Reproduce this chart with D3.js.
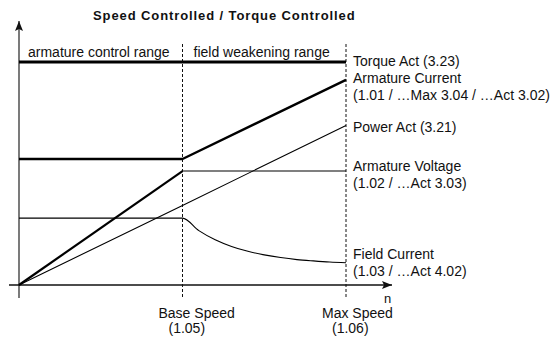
<!DOCTYPE html>
<html>
<head>
<meta charset="utf-8">
<script src="https://cdn.jsdelivr.net/npm/d3@7"></script>
<style>
  html, body { margin: 0; padding: 0; background: #fff; }
  svg { display: block; }
  text { font-family: "Liberation Sans", Arial, Helvetica, sans-serif; fill: #111; }
</style>
</head>
<body>
<div id="chart"></div>
<script>
// Speed in per-unit of base speed: 0 = standstill, 1 = base speed, 2 = max speed
const speedKnots = [0, 1, 2];

// Per-unit quantities (1.0 = rated torque)
const torqueAct       = [1.00, 1.00, 1.00];
const armatureCurrent = [0.565, 0.565, 0.92];
const armatureVoltage = [0.00, 0.511, 0.511];
const powerAct        = [0.00, 0.357, 0.715];

// Field current: constant up to base speed, then weakened
const fieldSpeed   = [0, 1.0, 1.1, 1.2, 1.3, 1.4, 1.5, 1.6, 1.7, 1.8, 1.9, 2.0];
const fieldCurrent = [0.30, 0.30, 0.244, 0.203, 0.173, 0.151, 0.135, 0.123, 0.114, 0.108, 0.103, 0.100];

// Speed markers on the n axis
const markerSpeeds = [1, 2];
const markerLabels = [["Base Speed", "(1.05)"], ["Max Speed", "(1.06)"]];

// Range headings above the torque line
const rangeLabels = ["armature control range", "field weakening range"];
const rangeStarts = [0, 1];

// Right-hand series labels
const seriesLabels = [
  ["Torque Act (3.23)"],
  ["Armature Current", "(1.01 / …Max 3.04 / …Act 3.02)"],
  ["Power Act (3.21)"],
  ["Armature Voltage", "(1.02 / …Act 3.03)"],
  ["Field Current", "(1.03 / …Act 4.02)"]
];
const seriesEnds = [torqueAct[2], armatureCurrent[2], powerAct[2], armatureVoltage[2], fieldCurrent[fieldCurrent.length - 1]];

const chartTitle = "Speed Controlled / Torque Controlled";

// ---- layout ----
const W = 559, H = 337;
const labelDy = [4, 3.5, 6.5, 0, -4];   // nudges of each label's first baseline
const lineGap = 17;

const svg = d3.select("#chart").append("svg")
  .attr("width", W).attr("height", H);

const x = d3.scaleLinear().domain([0, 2]).range([19, 346]);
const y = d3.scaleLinear().domain([0, 1]).range([285, 62]);

const defs = svg.append("defs");
defs.append("marker")
  .attr("id", "arrow")
  .attr("viewBox", "0 0 10 10")
  .attr("refX", 10).attr("refY", 5)
  .attr("markerWidth", 10).attr("markerHeight", 10)
  .attr("markerUnits", "userSpaceOnUse")
  .attr("orient", "auto")
  .append("path")
  .attr("d", "M0,1 L10,5 L0,9 L2,5 Z")
  .attr("fill", "#111");

// title
svg.append("text")
  .attr("x", 93).attr("y", 20)
  .attr("font-size", 13).attr("font-weight", "bold")
  .attr("letter-spacing", 0.9)
  .text(chartTitle);

// axes with arrowheads
svg.append("line")
  .attr("x1", x(0)).attr("x2", x(0))
  .attr("y1", 298).attr("y2", 21)
  .attr("stroke", "#333").attr("stroke-width", 1.3)
  .attr("marker-end", "url(#arrow)");
svg.append("line")
  .attr("x1", 9).attr("x2", 392)
  .attr("y1", y(0)).attr("y2", y(0))
  .attr("stroke", "#111").attr("stroke-width", 1.3)
  .attr("marker-end", "url(#arrow)");

svg.append("text")
  .attr("x", 384).attr("y", 303)
  .attr("font-size", 13)
  .text("n");

// dashed speed markers
svg.selectAll("line.marker")
  .data(markerSpeeds)
  .join("line")
  .attr("class", "marker")
  .attr("x1", d => x(d)).attr("x2", d => x(d))
  .attr("y1", 44).attr("y2", 298)
  .attr("stroke", "#111").attr("stroke-width", 1)
  .attr("stroke-dasharray", "3,2");

const mk = svg.selectAll("g.mk")
  .data(markerSpeeds)
  .join("g").attr("class", "mk");
mk.append("text")
  .attr("x", d => x(d) - 24).attr("y", 318)
  .attr("font-size", 14)
  .text((d, i) => markerLabels[i][0]);
mk.append("text")
  .attr("x", d => x(d) - 14).attr("y", 333)
  .attr("font-size", 14)
  .text((d, i) => markerLabels[i][1]);

// range headings
svg.selectAll("text.range")
  .data(rangeLabels)
  .join("text")
  .attr("class", "range")
  .attr("x", (d, i) => x(rangeStarts[i]) + (i === 0 ? 9 : 11))
  .attr("y", 57)
  .attr("font-size", 14)
  .text(d => d);

const line = d3.line().x(d => x(d[0])).y(d => y(d[1]));
const pairs = (xs, ys) => xs.map((v, i) => [v, ys[i]]);

// torque
svg.append("path")
  .attr("d", line(pairs(speedKnots, torqueAct)))
  .attr("fill", "none").attr("stroke", "#000").attr("stroke-width", 3);

// armature current
svg.append("path")
  .attr("d", line(pairs(speedKnots, armatureCurrent)))
  .attr("fill", "none").attr("stroke", "#000").attr("stroke-width", 2.4)
  .attr("stroke-linejoin", "round");

// power
svg.append("path")
  .attr("d", line(pairs(speedKnots, powerAct)))
  .attr("fill", "none").attr("stroke", "#000").attr("stroke-width", 1.1);

// armature voltage: heavy ramp, light constant part
const voltPts = pairs(speedKnots, armatureVoltage);
svg.append("path")
  .attr("d", line(voltPts.slice(0, 2)))
  .attr("fill", "none").attr("stroke", "#000").attr("stroke-width", 2.2);
svg.append("path")
  .attr("d", line(voltPts.slice(1)))
  .attr("fill", "none").attr("stroke", "#000").attr("stroke-width", 1.1);

// field current
svg.append("path")
  .attr("d", d3.line().x(d => x(d[0])).y(d => y(d[1])).curve(d3.curveMonotoneX)(pairs(fieldSpeed, fieldCurrent)))
  .attr("fill", "none").attr("stroke", "#000").attr("stroke-width", 1.1);

// series labels
const lab = svg.selectAll("g.lab")
  .data(seriesLabels)
  .join("g").attr("class", "lab");
lab.each(function(lines, i) {
  const g = d3.select(this);
  lines.forEach((t, k) => {
    g.append("text")
      .attr("x", 353)
      .attr("y", y(seriesEnds[i]) + labelDy[i] + k * lineGap)
      .attr("font-size", 14)
      .text(t);
  });
});
</script>
</body>
</html>
